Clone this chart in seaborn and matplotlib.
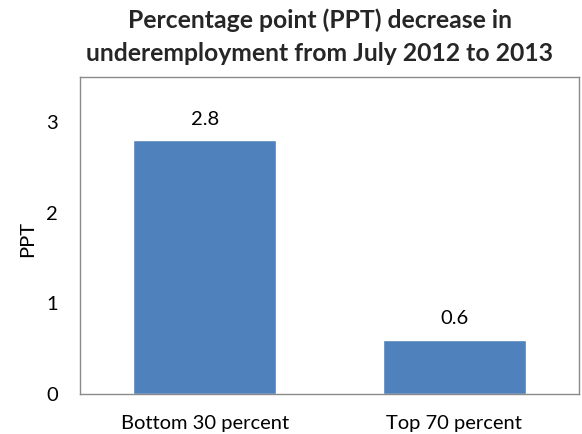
import matplotlib
matplotlib.use("Agg")
import matplotlib.pyplot as plt
import seaborn as sns
import pandas as pd

categories = ["Bottom 30 percent", "Top 70 percent"]
ppt_decrease = [2.8, 0.6]
y_ticks = [0, 1, 2, 3]

sns.set_theme(style="white")
plt.rcParams["font.family"] = ["Lato", "DejaVu Sans"]

df = pd.DataFrame({"group": categories, "ppt": ppt_decrease})

fig = plt.figure(figsize=(5.82, 4.34), dpi=100)
ax = fig.add_axes([80 / 582, 1 - 394 / 434, 499 / 582, 317 / 434])

sns.barplot(data=df, x="group", y="ppt", color="#4F81BD", saturation=1,
            width=0.575, ax=ax)

label_size = 14.5
ax.set_ylim(0, 3.5)
ax.set_yticks(y_ticks)
ax.set_yticklabels([str(t) for t in y_ticks], fontsize=label_size, color="#000000")
ax.tick_params(axis="y", length=0, pad=16)
ax.tick_params(axis="x", length=0, pad=15, labelsize=label_size, labelcolor="#000000")
ax.set_xlabel("")
ax.set_ylabel("PPT", fontsize=label_size, color="#000000")
ax.yaxis.set_label_coords(-52 / 499, 0.49)
ax.yaxis.label.set_va("center")

for side in ["left", "bottom", "top", "right"]:
    ax.spines[side].set_visible(True)
    ax.spines[side].set_color("#8a8a8a")
    ax.spines[side].set_linewidth(1.0)

for patch, val in zip(ax.patches, ppt_decrease):
    ax.annotate(f"{val:.1f}", (patch.get_x() + patch.get_width() / 2, val),
                xytext=(0, 11), textcoords="offset points",
                ha="center", va="baseline", fontsize=label_size, color="#000000")

title_size = 17.8
fig.text(320 / 582, 1 - 27.5 / 434, "Percentage point (PPT) decrease in",
         ha="center", va="baseline", fontsize=title_size, fontweight="bold")
fig.text(320 / 582, 1 - 61 / 434, "underemployment from July 2012 to 2013",
         ha="center", va="baseline", fontsize=title_size, fontweight="bold")

fig.savefig("out.png", dpi=100)
